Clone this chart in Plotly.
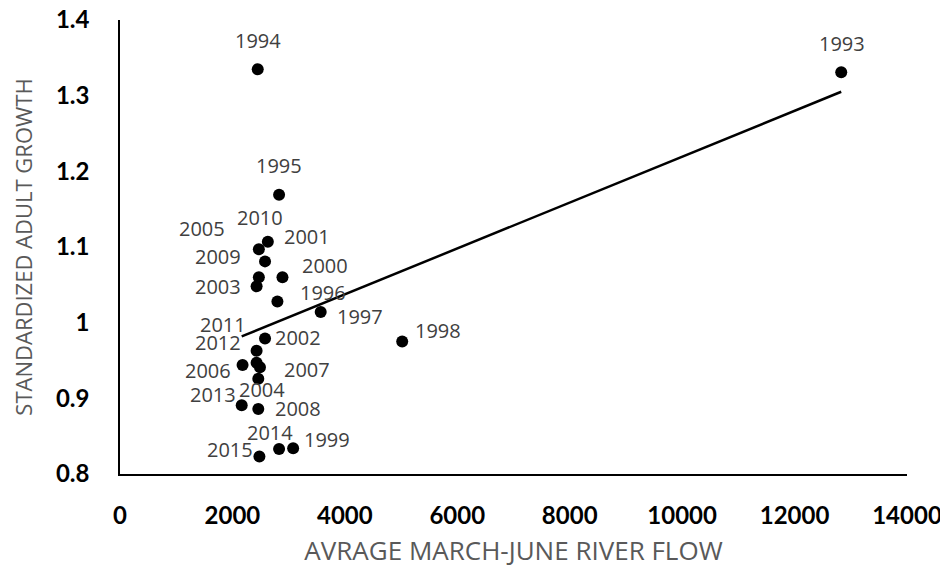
import numpy as np
import plotly.graph_objects as go

years = ["1993", "1994", "1995", "1996", "1997", "1998", "1999", "2000", "2001",
         "2002", "2003", "2004", "2005", "2006", "2007", "2008", "2009", "2010",
         "2011", "2012", "2013", "2014", "2015"]
river_flow = [12830, 2450, 2830, 2800, 3570, 5020, 3080, 2890, 2580,
              2580, 2430, 2460, 2470, 2180, 2490, 2460, 2470, 2630,
              2430, 2430, 2165, 2830, 2480]
adult_growth = [1.331, 1.335, 1.169, 1.028, 1.014, 0.975, 0.834, 1.060, 1.081,
                0.979, 1.048, 0.926, 1.097, 0.944, 0.941, 0.886, 1.060, 1.107,
                0.947, 0.963, 0.891, 0.833, 0.823]

x_ticks = [0, 2000, 4000, 6000, 8000, 10000, 12000, 14000]
x_tick_text = ["0", "2000", "4000", "6000", "8000", "10000", "12000", "14000"]
y_ticks = [0.8, 0.9, 1.0, 1.1, 1.2, 1.3, 1.4]
y_tick_text = ["0.8", "0.9", "1", "1.1", "1.2", "1.3", "1.4"]

# label offsets in pixels (style only)
label_offsets = {
    "1993": (1, 29), "1994": (0, 29), "1995": (0, 29), "1996": (46, 9),
    "1997": (39, -4), "1998": (36, 11), "1999": (34, 9), "2000": (43, 12),
    "2001": (42, 25), "2002": (33, 1), "2003": (-39, 0), "2004": (4, -11),
    "2005": (-57, 21), "2006": (-35, -5), "2007": (47, -2), "2008": (40, 0),
    "2009": (-41, 21), "2010": (-8, 24), "2011": (-34, 38), "2012": (-39, 8),
    "2013": (-29, 11), "2014": (-9, 17), "2015": (-29, 7),
}

xa = np.array(river_flow, dtype=float)
ya = np.array(adult_growth, dtype=float)
slope, intercept = np.polyfit(xa, ya, 1)
tx = np.array([xa.min(), xa.max()])
ty = slope * tx + intercept

fig = go.Figure()
fig.add_trace(go.Scatter(x=tx, y=ty, mode="lines",
                         line=dict(color="black", width=2.5),
                         hoverinfo="skip", showlegend=False))
fig.add_trace(go.Scatter(x=river_flow, y=adult_growth, mode="markers",
                         marker=dict(color="black", size=12),
                         text=years, showlegend=False))

for yr, xv, yv in zip(years, river_flow, adult_growth):
    dx, dy = label_offsets[yr]
    fig.add_annotation(x=xv, y=yv, text=yr, showarrow=False,
                       xshift=dx, yshift=dy,
                       font=dict(family="Open Sans", size=20, color="#404040"))

fig.update_layout(
    width=948, height=571,
    margin=dict(l=112, r=49, t=12, b=105),
    paper_bgcolor="white", plot_bgcolor="white",
    xaxis=dict(range=[0, 14000], tickvals=x_ticks, ticktext=x_tick_text,
               showgrid=False, zeroline=False, automargin=False,
               showline=True, linecolor="black", linewidth=1.5, ticks="",
               ticklabelstandoff=19, ticklabeloverflow="allow",
               tickfont=dict(family="Lato", size=24, color="black", weight="bold"),
               title=dict(text="AVRAGE MARCH-JUNE RIVER FLOW", standoff=14,
                          font=dict(family="Open Sans", size=26, color="#595959"))),
    yaxis=dict(range=[0.8, 1.4], tickvals=y_ticks, ticktext=y_tick_text,
               showgrid=False, zeroline=False, automargin=False,
               showline=True, linecolor="black", linewidth=1.5, ticks="",
               ticklabelstandoff=24, ticklabeloverflow="allow",
               tickfont=dict(family="Lato", size=24, color="black", weight="bold"),
               title=dict(text="STANDARDIZED ADULT GROWTH", standoff=22,
                          font=dict(family="Open Sans", size=22, color="#595959"))),
)

fig.write_html("out.html")
